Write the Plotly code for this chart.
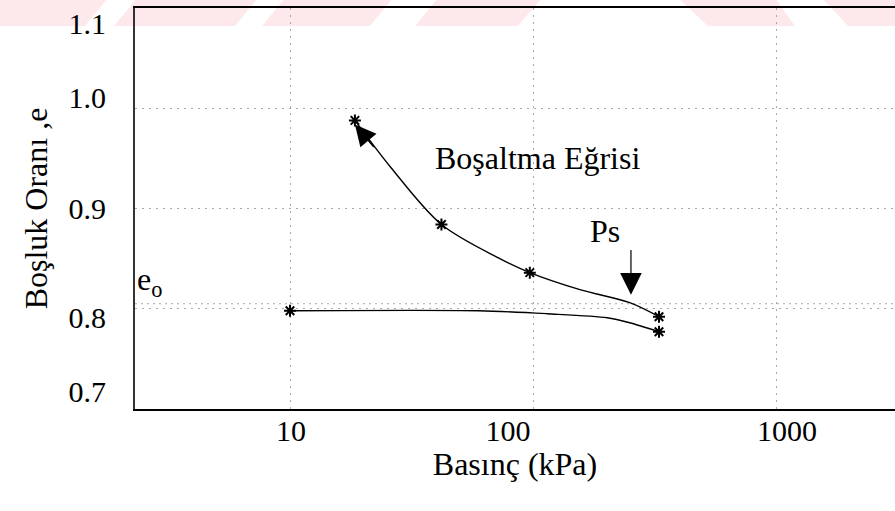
import math
import plotly.graph_objects as go

# ---------------- data ----------------
# loading (compression) branch: curve readings, asterisks at the tested loads
load_p = [10, 60, 114, 202, 250, 330]
load_e = [0.798, 0.798, 0.795, 0.791, 0.786, 0.777]
load_star_idx = [0, 5]

# unloading branch ("Boşaltma Eğrisi")
unload_p = [330, 250, 156, 97, 73, 42, 26, 18.5]
unload_e = [0.792, 0.806, 0.819, 0.836, 0.850, 0.884, 0.941, 0.988]
unload_star_idx = [0, 3, 5, 7]

e0 = 0.805          # initial void ratio line
ps_value = 253      # Ps (kPa), arrow position
ps_arrow_e = (0.860, 0.814)

x_ticks = [10, 100, 1000]
x_tick_text = ["10", "100", "1000"]
x_label_shift = [1, -25, 11]           # px to the right, as printed in the original
y_ticks = [0.7, 0.8, 0.9, 1.0, 1.1]
y_tick_text = ["0.7", "0.8", "0.9", "1.0", "1.1"]
y_label_shift = [-17, 9, 0, -11, 15]   # px downward, as printed in the original

FONT = "Liberation Serif"
GRID = "#a8a8a8"

fig = go.Figure()

# curves
fig.add_trace(go.Scatter(x=load_p, y=load_e, mode="lines",
                         line=dict(color="black", width=1.3, shape="spline", smoothing=0.8),
                         hoverinfo="skip", showlegend=False))
fig.add_trace(go.Scatter(x=unload_p, y=unload_e, mode="lines",
                         line=dict(color="black", width=1.4, shape="spline", smoothing=0.9),
                         hoverinfo="skip", showlegend=False))
# asterisks
fig.add_trace(go.Scatter(x=[load_p[i] for i in load_star_idx],
                         y=[load_e[i] for i in load_star_idx],
                         mode="markers",
                         marker=dict(symbol="asterisk", size=10, color="black",
                                     line=dict(color="black", width=2)),
                         hoverinfo="skip", showlegend=False))
fig.add_trace(go.Scatter(x=[unload_p[i] for i in unload_star_idx],
                         y=[unload_e[i] for i in unload_star_idx],
                         mode="markers",
                         marker=dict(symbol="asterisk", size=10, color="black",
                                     line=dict(color="black", width=2)),
                         hoverinfo="skip", showlegend=False))

# ---------------- layout ----------------
ML, MR, MT, MB = 135, 0, 8, 102
W, H = 895, 511
x_range = [1 - (290 - ML) / 243.0, 1 + (W - 290) / 243.0]
y_range = [0.6999, 1.1002]

fig.update_layout(
    width=W, height=H,
    margin=dict(l=ML, r=MR, t=MT, b=MB, autoexpand=False),
    paper_bgcolor="white", plot_bgcolor="white",
    showlegend=False,
)
fig.update_xaxes(
    type="log", range=x_range, automargin=False,
    tickvals=x_ticks, ticks="", showticklabels=False,
    showgrid=True, gridcolor=GRID, griddash="2px,5px", gridwidth=1,
    showline=True, linecolor="black", linewidth=2, mirror=True,
    zeroline=False,
    title=dict(text="Basınç (kPa)", font=dict(family=FONT, size=32, color="black"), standoff=43),
)
fig.update_yaxes(
    range=y_range, automargin=False,
    tickvals=y_ticks, ticks="", showticklabels=False,
    showgrid=True, gridcolor=GRID, griddash="2px,5px", gridwidth=1,
    showline=True, linecolor="#333333", linewidth=2, mirror=False,
    zeroline=False,
    title=dict(text="Boşluk Oranı ,e", font=dict(family=FONT, size=32, color="black"), standoff=76),
)

# tick labels, each on an overlay axis so it sits where the original prints it
layout_extra = {}
for i, (v, t, s) in enumerate(zip(y_ticks, y_tick_text, y_label_shift)):
    layout_extra[f"yaxis{i + 2}"] = dict(
        overlaying="y", anchor="x", side="left", range=y_range, automargin=False,
        tickvals=[v], ticktext=[t], ticks="", showgrid=False, showline=False,
        zeroline=False, ticklabelstandoff=28, ticklabelshift=s,
        ticklabeloverflow="allow",
        tickfont=dict(family=FONT, size=30, color="black"))
for i, (v, t, s) in enumerate(zip(x_ticks, x_tick_text, x_label_shift)):
    layout_extra[f"xaxis{i + 2}"] = dict(
        overlaying="x", anchor="y", side="bottom", type="log", range=x_range,
        automargin=False,
        tickvals=[v], ticktext=[t], ticks="", showgrid=False, showline=False,
        zeroline=False, ticklabelstandoff=1, ticklabelshift=s,
        ticklabeloverflow="allow",
        tickfont=dict(family=FONT, size=30, color="black"))
fig.update_layout(**layout_extra)

# empty (mode="none") traces that attach the label axes
pairs = [("x2", "y2"), ("x3", "y3"), ("x4", "y4"), ("x", "y5"), ("x", "y6")]
for xa, ya in pairs:
    fig.add_trace(go.Scatter(x=load_p, y=load_e, mode="none", xaxis=xa, yaxis=ya,
                             hoverinfo="skip", showlegend=False))

# e0 dotted line
fig.add_shape(type="line", xref="paper", x0=0, x1=1, yref="y", y0=e0, y1=e0,
              line=dict(color=GRID, width=1, dash="2px,4px"), layer="below")

# faint watermark stripes across the top (pixel -> paper)
def px2x(px):
    return (px - ML) / (W - ML - MR)

def py2y(py):
    return (H - MB - py) / (H - MT - MB)

stripes = [  # (bottom_x0, bottom_x1, top_x0, top_x1) in pixels, band y 0..26
    (-40, 85, -17, 108),
    (114, 235, 137, 258),
    (262, 370, 285, 393),
    (415, 518, 438, 542),
    (708, 795, 678, 775),
    (848, 950, 822, 925),
]
yb, yt = py2y(26), py2y(-2)
for b0, b1, t0, t1 in stripes:
    path = (f"M {px2x(b0)},{yb} L {px2x(b1)},{yb} L {px2x(t1)},{yt} "
            f"L {px2x(t0)},{yt} Z")
    fig.add_shape(type="path", path=path, xref="paper", yref="paper",
                  fillcolor="rgb(253,233,236)", line=dict(width=0), layer="below")

# annotations
fig.add_annotation(x=math.log10(104), y=0.950, text="Boşaltma Eğrisi", showarrow=False,
                   font=dict(family=FONT, size=32, color="black"))
fig.add_annotation(x=math.log10(198), y=0.878, text="Ps", showarrow=False,
                   font=dict(family=FONT, size=32, color="black"))
fig.add_annotation(x=math.log10(ps_value), y=ps_arrow_e[1], ax=math.log10(ps_value), ay=ps_arrow_e[0],
                   xref="x", yref="y", axref="x", ayref="y", text="", showarrow=True,
                   arrowhead=2, arrowsize=3.6, arrowwidth=1.2, arrowcolor="black")
# arrow at end of unloading curve
fig.add_annotation(x=math.log10(unload_p[-1]), y=unload_e[-1] - 0.004,
                   ax=math.log10(22.4), ay=0.960,
                   xref="x", yref="y", axref="x", ayref="y", text="", showarrow=True,
                   arrowhead=2, arrowsize=2.8, arrowwidth=1.5, arrowcolor="black")
fig.add_annotation(xref="paper", x=0, xanchor="left", y=0.827, yref="y",
                   text="e<sub>o</sub>", showarrow=False,
                   font=dict(family=FONT, size=32, color="black"))

fig.write_html("out.html")
